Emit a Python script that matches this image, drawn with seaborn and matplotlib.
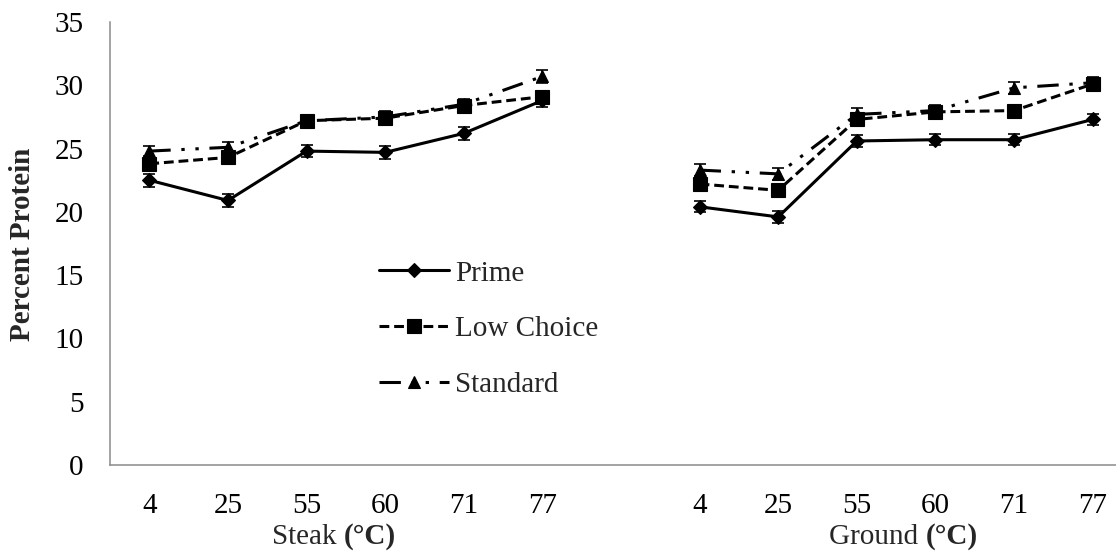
import matplotlib
matplotlib.use("Agg")
import matplotlib.pyplot as plt
import seaborn as sns
import pandas as pd

# Cooking end-point temperatures (°C), shared by both product groups
temps = ["4", "25", "55", "60", "71", "77"]
groups = ["Steak", "Ground"]
grades = ["Prime", "Low Choice", "Standard"]

# Mean percent protein
steak_prime = [22.5, 20.9, 24.8, 24.7, 26.2, 28.8]
steak_low_choice = [23.8, 24.3, 27.2, 27.4, 28.4, 29.1]
steak_standard = [24.8, 25.1, 27.2, 27.5, 28.5, 30.7]
ground_prime = [20.4, 19.6, 25.6, 25.7, 25.7, 27.3]
ground_low_choice = [22.2, 21.7, 27.3, 27.9, 28.0, 30.1]
ground_standard = [23.3, 23.0, 27.7, 28.0, 29.8, 30.2]

# Standard errors
steak_prime_se = [0.5, 0.5, 0.5, 0.5, 0.5, 0.5]
steak_low_choice_se = [0.45, 0.45, 0.45, 0.45, 0.45, 0.45]
steak_standard_se = [0.4, 0.45, 0.45, 0.45, 0.45, 0.5]
ground_prime_se = [0.45, 0.5, 0.45, 0.45, 0.45, 0.45]
ground_low_choice_se = [0.45, 0.45, 0.45, 0.45, 0.45, 0.45]
ground_standard_se = [0.45, 0.45, 0.5, 0.45, 0.45, 0.45]

means = {
    ("Steak", "Prime"): steak_prime,
    ("Steak", "Low Choice"): steak_low_choice,
    ("Steak", "Standard"): steak_standard,
    ("Ground", "Prime"): ground_prime,
    ("Ground", "Low Choice"): ground_low_choice,
    ("Ground", "Standard"): ground_standard,
}
errors = {
    ("Steak", "Prime"): steak_prime_se,
    ("Steak", "Low Choice"): steak_low_choice_se,
    ("Steak", "Standard"): steak_standard_se,
    ("Ground", "Prime"): ground_prime_se,
    ("Ground", "Low Choice"): ground_low_choice_se,
    ("Ground", "Standard"): ground_standard_se,
}

# Category slots on the x axis: one empty slot separates the two groups
group_offset = {"Steak": 0, "Ground": 7}

rows = []
for g in groups:
    for grade in grades:
        for i, (t, m, e) in enumerate(zip(temps, means[(g, grade)], errors[(g, grade)])):
            rows.append({"group": g, "grade": grade, "temp": t,
                         "pos": group_offset[g] + i, "protein": m, "se": e})
df = pd.DataFrame(rows)

sns.set_style("white")
plt.rcParams["font.family"] = ["Liberation Serif", "DejaVu Serif"]
FS = 21

line_styles = {
    "Prime": dict(marker="D", markersize=7, linestyle="-"),
    "Low Choice": dict(marker="s", markersize=10, linestyle=(0, (3.2, 1.6))),
    "Standard": dict(marker="^", markersize=9,
                     linestyle=(0, (7, 3.5, 1.1, 3.5, 1.1, 3.5))),
}

fig = plt.figure(figsize=(11.16, 5.52), dpi=100)
W, H = 1116, 552
ax = fig.add_axes([110 / W, 1 - 465 / H, 1022 / W, (465 - 22) / H])

for grade in grades:
    for g in groups:
        sub = df[(df.grade == grade) & (df.group == g)]
        ax.errorbar(sub["pos"], sub["protein"], yerr=sub["se"], fmt="none",
                    ecolor="black", elinewidth=1.2, capsize=4.5, capthick=1.2,
                    zorder=4)
        sns.lineplot(data=sub, x="pos", y="protein", ax=ax, color="black",
                     linewidth=2.2, markeredgecolor="black", markeredgewidth=0.8,
                     errorbar=None, sort=True, zorder=3,
                     label=grade if g == "Steak" else None,
                     **line_styles[grade])

ax.set_xlim(-0.5, 12.5)
ax.set_ylim(0, 35)
ax.set_yticks(range(0, 36, 5))
ax.set_xticks(df["pos"].drop_duplicates().sort_values())
ax.set_xticklabels(temps * 2)
ax.tick_params(axis="both", length=0, labelsize=FS, colors="black")
ax.tick_params(axis="y", pad=19)
ax.tick_params(axis="x", pad=20)
ax.set_xlabel("")
ax.set_ylabel("")
for side in ("top", "right"):
    ax.spines[side].set_visible(False)
for side in ("left", "bottom"):
    ax.spines[side].set_color("#8a8a8a")
    ax.spines[side].set_linewidth(1.1)

fig.text(23 / W, 1 - 244 / H, "Percent Protein", rotation=90, ha="center",
         va="center", fontsize=FS, fontweight="bold")

# Group titles: name in regular weight, unit in bold
for name, x0 in (("Steak ", 272), ("Ground ", 829)):
    t = fig.text(x0 / W, 2 / H, name, ha="left", va="bottom", fontsize=FS)
    ax.annotate("(°C)", xy=(1, 0), xycoords=t, ha="left", va="bottom",
                fontsize=FS, fontweight="bold", annotation_clip=False)

leg = ax.legend(loc="center left", bbox_to_anchor=(379 / W, 1 - 329 / H),
                bbox_transform=fig.transFigure, frameon=False, fontsize=FS,
                handlelength=2.4, handletextpad=0.2, labelspacing=1.0,
                borderpad=0, borderaxespad=0)

fig.savefig("out.png", dpi=100)
